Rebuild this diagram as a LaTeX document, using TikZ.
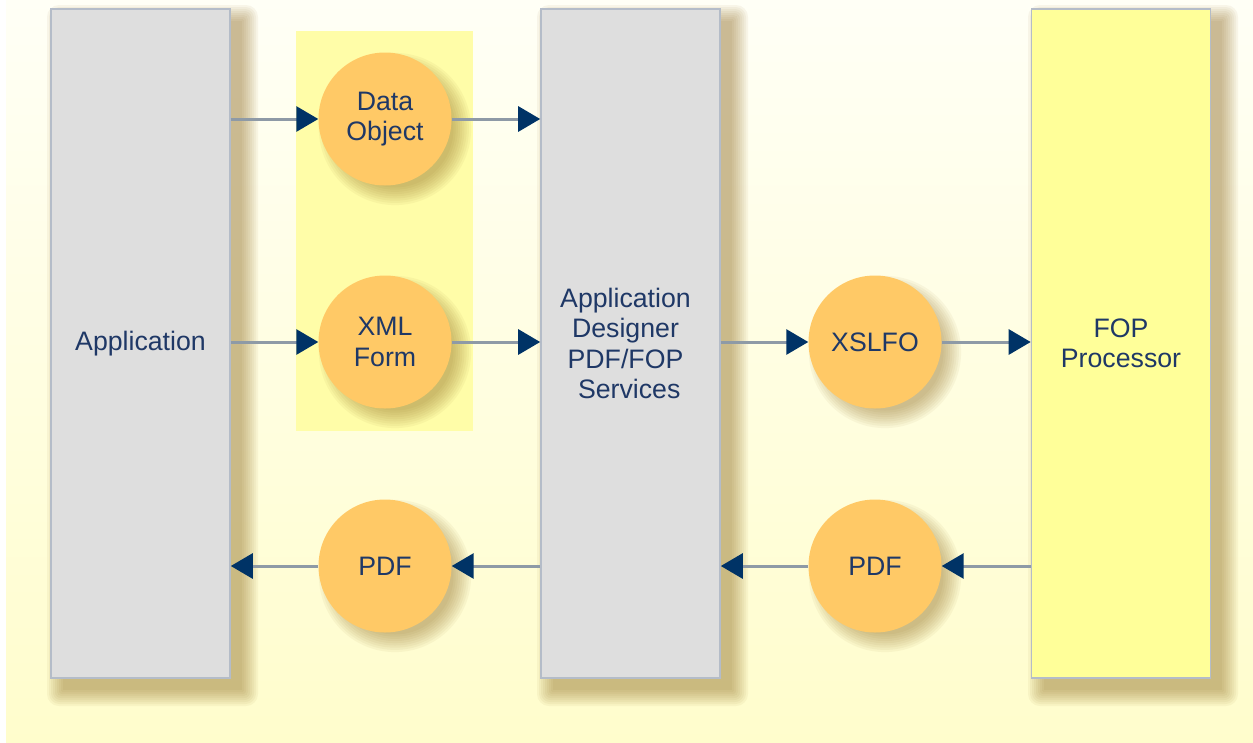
\documentclass[tikz,border=0pt]{standalone}
\usepackage{fontspec}
\setmainfont{Liberation Sans}
\usetikzlibrary{arrows.meta}
\definecolor{bgtop}{HTML}{FFFFF6}
\definecolor{bgbot}{HTML}{FFFDCC}
\definecolor{boxgray}{HTML}{DEDEDE}
\definecolor{boxline}{HTML}{B4BCC8}
\definecolor{fopyel}{HTML}{FFFF99}
\definecolor{hilite}{HTML}{FFFDA8}
\definecolor{circfill}{HTML}{FFC966}
\definecolor{txtblue}{HTML}{1F3866}
\definecolor{arrline}{HTML}{8E9AA6}
\definecolor{arrhead}{HTML}{003366}
\definecolor{shadowc}{HTML}{8A6418}
\tikzset{
  every node/.style={text=txtblue, font=\fontsize{26.7}{30.5}\selectfont, align=center},
  bigbox/.style={draw=boxline, line width=1.6pt, minimum width=179pt, minimum height=669pt, inner sep=0pt},
  bubble/.style={circle, fill=circfill, minimum size=133pt, inner sep=0pt},
  arr/.style={draw=arrline, line width=3pt, -{Triangle[length=22pt,width=25pt,color=arrhead]}},
}
\newcommand\rectshadow[4]{%
  \foreach \k in {0,...,8}{%
    \fill[shadowc, opacity=0.06, rounded corners={\k*1.5pt}]
      ({#1+12-\k*2},{#2+12-\k*2}) rectangle ({#3+12+\k*2},{#4+12+\k*2});
  }}
\newcommand\circshadow[3]{%
  \foreach \k in {0,...,8}{%
    \fill[shadowc, opacity=0.055] ({#1+10},{#2+10}) circle ({#3-8+\k*2.2});
  }}
\begin{document}
\begin{tikzpicture}[x=1pt,y=-1pt]
\useasboundingbox (0,0) rectangle (1253,742);
\shade[top color=bgtop, bottom color=bgbot] (6,0) rectangle (1253,742);
% highlight
\fill[hilite] (296,31) rectangle (473,431);
% shadows
\rectshadow{51}{9}{230}{678}
\rectshadow{541}{9}{720}{678}
\rectshadow{1032}{9}{1210}{678}
\circshadow{385}{119}{66.5}
\circshadow{385}{342}{66.5}
\circshadow{875}{342}{66.5}
\circshadow{385}{566}{66.5}
\circshadow{875}{566}{66.5}
% boxes
\node[bigbox, fill=boxgray] (app) at (140.5,343.5) {Application};
\node[bigbox, fill=boxgray] (ad) at (630.5,343.5) {\hspace*{-10pt}Application\\\hspace*{-10pt}Designer\\\hspace*{-10pt}PDF/FOP\\\ \hspace*{-10pt}Services};
\node[bigbox, fill=fopyel] (fop) at (1121,343.5) {FOP\\Processor};
% circles
\node[bubble] (do) at (385,119) {Data\\Object};
\node[bubble] (xml) at (385,342) {XML\\Form};
\node[bubble] (xslfo) at (875,342) {XSLFO};
\node[bubble] (pdfa) at (385,566) {PDF};
\node[bubble] (pdfb) at (875,566) {PDF};
% arrows
\draw[arr] (app.east |- do.west) -- (do.west);
\draw[arr] (do.east) -- (ad.west |- do.east);
\draw[arr] (app.east |- xml.west) -- (xml.west);
\draw[arr] (xml.east) -- (ad.west |- xml.east);
\draw[arr] (ad.east |- xslfo.west) -- (xslfo.west);
\draw[arr] (xslfo.east) -- (fop.west |- xslfo.east);
\draw[arr] (fop.west |- pdfb.east) -- (pdfb.east);
\draw[arr] (pdfb.west) -- (ad.east |- pdfb.west);
\draw[arr] (ad.west |- pdfa.east) -- (pdfa.east);
\draw[arr] (pdfa.west) -- (app.east |- pdfa.west);
\end{tikzpicture}
\end{document}
